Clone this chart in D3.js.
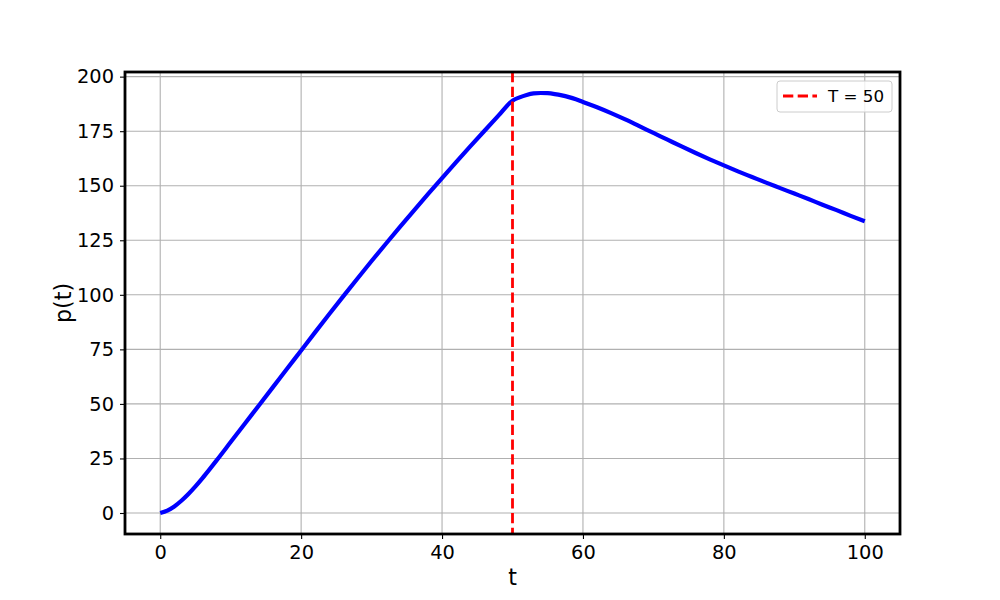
<!doctype html>
<html lang="en">
<head>
    <meta charset="UTF-8">
    <title>p(t)</title>
    <style>
      body { margin: 0; background: #fff; }
      text { font-family: "DejaVu Sans", sans-serif; fill: #000; }
    </style>
</head>
<body>
<div class="container"></div>

<script src="https://d3js.org/d3.v7.min.js"></script>

<script>
  // data
  const tValues = [0, 1, 2, 3, 4, 5, 6, 7, 8, 10, 12, 14, 16, 18, 20, 22, 24, 26, 28, 30,
    32, 34, 36, 38, 40, 42, 44, 46, 48, 50, 51, 52, 53, 54, 55, 56, 57, 58, 59, 60,
    62, 64, 66, 68, 70, 72, 74, 76, 78, 80, 82, 84, 86, 88, 90, 92, 94, 96, 98, 100];
  const pValues = [0, 1.1, 3.0, 5.6, 8.7, 12.2, 16.0, 20.0, 24.1, 32.5, 40.9, 49.3, 57.7, 66.1, 74.5, 82.9, 91.2, 99.4, 107.5, 115.5,
    123.3, 131.0, 138.6, 146.1, 153.5, 160.8, 168.0, 175.1, 182.1, 189.0, 190.5, 191.6, 192.3, 192.5, 192.4, 192.0, 191.4, 190.6, 189.6, 188.4,
    186.0, 183.3, 180.4, 177.3, 174.2, 171.1, 168.0, 165.0, 162.1, 159.3, 156.6, 154.0, 151.4, 148.9, 146.4, 143.9, 141.3, 138.8, 136.2, 133.7];
  const switchTime = 50;
  const legendLabel = 'T = 50';
  const xTicks = [0, 20, 40, 60, 80, 100];
  const yTicks = [0, 25, 50, 75, 100, 125, 150, 175, 200];

  const SVG_WIDTH = 1000;
  const SVG_HEIGHT = 600;
  const LEFT = 125, RIGHT = 900, TOP = 72, BOTTOM = 534;
  const GRAPH_WIDTH = RIGHT - LEFT;
  const GRAPH_HEIGHT = BOTTOM - TOP;

  const points = tValues.map((t, i) => ({ t, p: pValues[i] }));

  const svg = d3.select('.container')
    .append('svg')
    .attr('width', SVG_WIDTH)
    .attr('height', SVG_HEIGHT);

  const graph = svg.append('g')
    .attr('transform', `translate(${LEFT}, ${TOP})`);

  // matplotlib-like 5% margins
  const x = d3.scaleLinear().domain([-5, 105]).range([0, GRAPH_WIDTH]);
  const pMax = d3.max(pValues);
  const y = d3.scaleLinear().domain([-0.05 * pMax, pMax * 1.05]).range([GRAPH_HEIGHT, 0]);

  // grid
  graph.append('g')
    .selectAll('line')
    .data(xTicks)
    .join('line')
    .attr('x1', d => x(d)).attr('x2', d => x(d))
    .attr('y1', 0).attr('y2', GRAPH_HEIGHT)
    .attr('stroke', '#b0b0b0').attr('stroke-width', 1.1);
  graph.append('g')
    .selectAll('line')
    .data(yTicks)
    .join('line')
    .attr('y1', d => y(d)).attr('y2', d => y(d))
    .attr('x1', 0).attr('x2', GRAPH_WIDTH)
    .attr('stroke', '#b0b0b0').attr('stroke-width', 1.1);

  // curve
  const line = d3.line()
    .x(d => x(d.t))
    .y(d => y(d.p))
    .curve(d3.curveMonotoneX);

  graph.append('path')
    .datum(points)
    .attr('d', line)
    .attr('fill', 'none')
    .attr('stroke', '#0000ff')
    .attr('stroke-width', 4.2)
    .attr('stroke-linejoin', 'round');

  // switch time marker
  graph.append('line')
    .attr('x1', x(switchTime)).attr('x2', x(switchTime))
    .attr('y1', 0).attr('y2', GRAPH_HEIGHT)
    .attr('stroke', '#ff0000')
    .attr('stroke-width', 2.8)
    .attr('stroke-dasharray', '10.3,4.4');

  // axes
  const xAxis = d3.axisBottom(x).tickValues(xTicks).tickSize(5).tickPadding(6).tickFormat(d3.format('d'));
  const yAxis = d3.axisLeft(y).tickValues(yTicks).tickSize(5).tickPadding(6).tickFormat(d3.format('d'));

  const xAxisGroup = graph.append('g')
    .attr('transform', `translate(0, ${GRAPH_HEIGHT})`)
    .call(xAxis);
  const yAxisGroup = graph.append('g').call(yAxis);

  [xAxisGroup, yAxisGroup].forEach(g => {
    g.select('.domain').remove();
    g.selectAll('.tick line').attr('stroke', '#000').attr('stroke-width', 1.1);
    g.selectAll('.tick text')
      .style('font-family', '"DejaVu Sans", sans-serif')
      .style('font-size', '19.4px')
      .attr('fill', '#000');
  });

  // frame
  graph.append('rect')
    .attr('width', GRAPH_WIDTH)
    .attr('height', GRAPH_HEIGHT)
    .attr('fill', 'none')
    .attr('stroke', '#000')
    .attr('stroke-width', 2.8);

  // axis labels
  svg.append('text')
    .attr('x', LEFT + GRAPH_WIDTH / 2)
    .attr('y', 585)
    .attr('text-anchor', 'middle')
    .style('font-size', '22.2px')
    .text('t');

  svg.append('text')
    .attr('transform', `translate(71, ${TOP + GRAPH_HEIGHT / 2}) rotate(-90)`)
    .attr('text-anchor', 'middle')
    .style('font-size', '22.2px')
    .text('p(t)');

  // legend
  const legend = svg.append('g').attr('transform', 'translate(777, 81)');
  legend.append('rect')
    .attr('width', 115)
    .attr('height', 31)
    .attr('rx', 3)
    .attr('fill', '#fff')
    .attr('fill-opacity', 0.8)
    .attr('stroke', '#cccccc')
    .attr('stroke-width', 1);
  legend.append('line')
    .attr('x1', 6).attr('x2', 40)
    .attr('y1', 15).attr('y2', 15)
    .attr('stroke', '#ff0000')
    .attr('stroke-width', 2.8)
    .attr('stroke-dasharray', '10.3,4.4');
  legend.append('text')
    .attr('x', 51)
    .attr('y', 21)
    .style('font-size', '16.7px')
    .text(legendLabel);
</script>
</body>
</html>
